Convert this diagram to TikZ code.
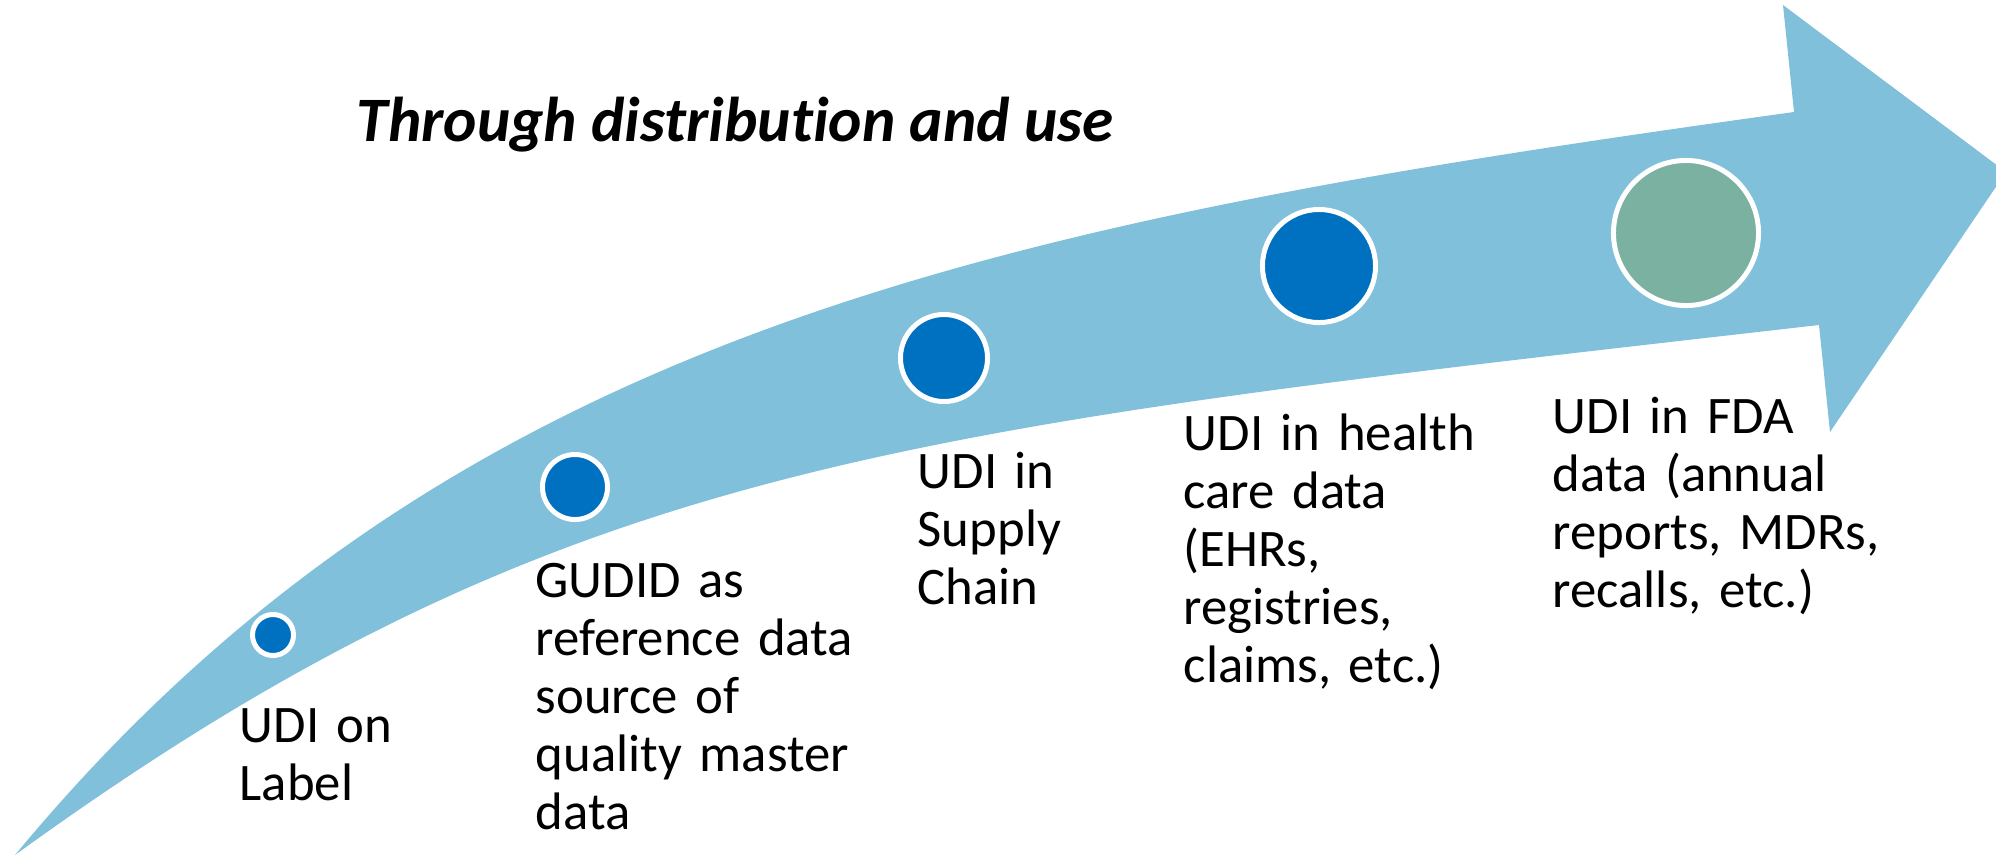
\documentclass[tikz,border=0pt]{standalone}
\usepackage{fontspec}
\setmainfont{Carlito}[Ligatures=NoCommon]
\definecolor{band}{HTML}{80C0DB}
\definecolor{udiblue}{HTML}{0070C0}
\definecolor{fdagreen}{HTML}{7BB1A0}

\begin{document}
\begin{tikzpicture}[x=0.01cm, y=-0.01cm,
    dot/.style={circle, draw=white, line width=1.42pt, inner sep=0pt, fill=udiblue},
    lbl/.style={anchor=base west, inner sep=0pt, align=left, text width=4.5cm,
                font=\fontsize{15}{16.5}\selectfont}]
    \useasboundingbox (0,0) rectangle (1996,857);
    % the curved arrow
    \coordinate (tail) at (15,855);
    \coordinate (notchU) at (1794,112);
    \coordinate (headT) at (1783,5);
    \coordinate (tip) at (2006,172);
    \coordinate (headB) at (1830,432);
    \coordinate (notchL) at (1819,325);
    \fill[band] (tail) .. controls (450,330) and (1000,222) .. (notchU) -- (headT) -- (tip)
        -- (headB) -- (notchL) .. controls (900,430) and (560,460) .. (tail) -- cycle;
    % steps along it
    \node[dot, minimum size=0.41cm] (label) at (273,635) {};
    \node[dot, minimum size=0.65cm] (gudid) at (575,487) {};
    \node[dot, minimum size=0.87cm] (supply) at (944,358) {};
    \node[dot, minimum size=1.13cm] (health) at (1319,266) {};
    \node[dot, minimum size=1.45cm, fill=fdagreen] (fda) at (1686,233) {};
    \node[anchor=base west, inner sep=0pt, font=\fontsize{18}{21}\selectfont\bfseries\itshape]
        (title) at (356,141) {Through distribution and use};
    \node[lbl] (labeltxt) at (239,742) {UDI on\\Label};
    \node[lbl] (gudidtxt) at (535,597) {GUDID as\\reference data\\source of\\quality master\\data};
    \node[lbl] (supplytxt) at (917,488) {UDI in\\Supply\\Chain};
    \node[lbl] (healthtxt) at (1183,450) {UDI in health\\care data\\(EHRs,\\registries,\\claims, etc.)};
    \node[lbl] (fdatxt) at (1552,433) {UDI in FDA\\data (annual\\reports, MDRs,\\recalls, etc.)};
\end{tikzpicture}
\end{document}
